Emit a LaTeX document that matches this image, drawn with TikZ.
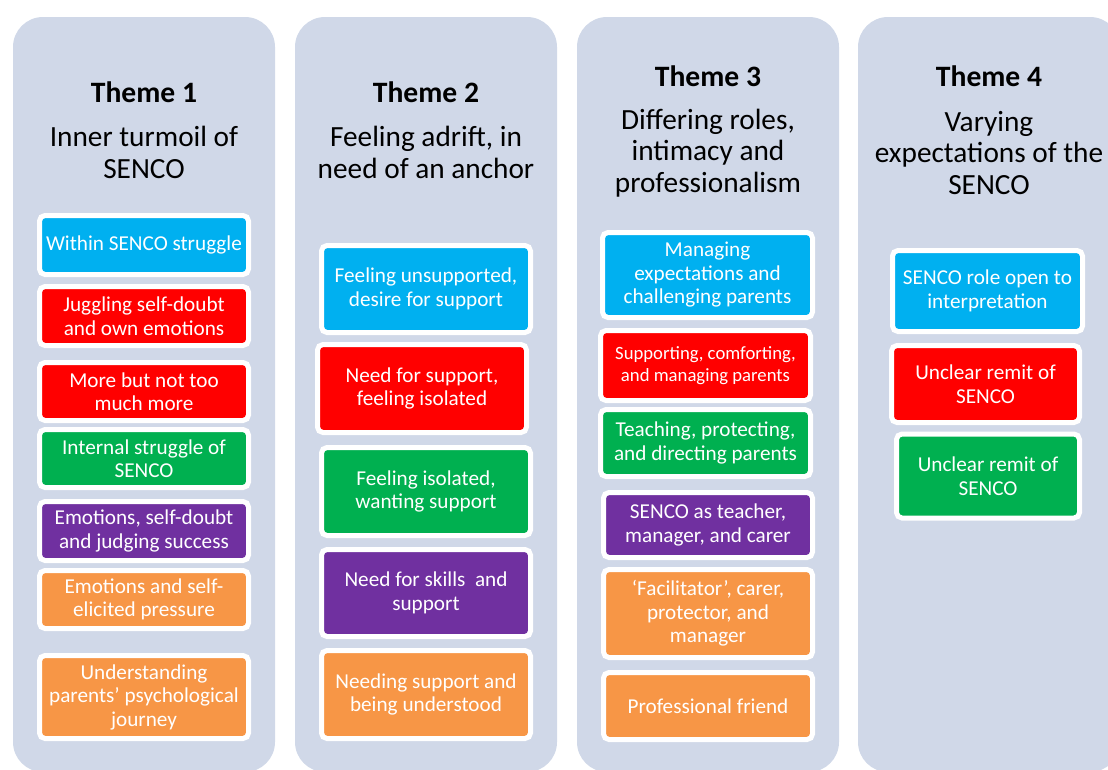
\documentclass[tikz,border=0pt]{standalone}
\usepackage{fontspec}
\setmainfont{Carlito}
\definecolor{panelgray}{HTML}{D0D8E8}
\definecolor{tblue}{HTML}{00B0F0}
\definecolor{tred}{HTML}{FF0000}
\definecolor{tgreen}{HTML}{00B050}
\definecolor{tpurple}{HTML}{7030A0}
\definecolor{torange}{HTML}{F79646}

\begin{document}
\begin{tikzpicture}[x=1pt, y=-1pt,
    panel/.style={fill=panelgray, rounded corners=30pt},
    themehead/.style={font=\fontsize{29.6}{32}\selectfont\bfseries},
    themename/.style={align=center, font=\fontsize{29.3}{31.7}\selectfont},
    tbox/.style={draw=white, line width=5pt, rounded corners=5.5pt, text=white,
        align=center, inner sep=0pt, font=\fontsize{21.2}{23.5}\selectfont}]
\useasboundingbox (0,0) rectangle (1108,769);
\clip (0,0) rectangle (1108,769);

\foreach \x in {13,295,577,858}
{
    \fill[panel] (\x,17) rectangle ++(262,755);
}

% theme 1
\node[themehead] (head1) at (144,92) {Theme 1};
\node[themename] (name1) at (144,152.5) {Inner turmoil of\\SENCO};
\node[tbox, fill=tblue, minimum width=209pt, minimum height=59pt] (within) at (144,245) {Within SENCO struggle};
\node[tbox, fill=tred, minimum width=209pt, minimum height=59pt] (juggling) at (144,316) {Juggling self-doubt\\and own emotions};
\node[tbox, fill=tred, minimum width=209pt, minimum height=58pt] (morebut) at (144,391.5) {More but not too\\much more};
\node[tbox, fill=tgreen, minimum width=209pt, minimum height=58pt] (internal) at (144,458.5) {Internal struggle of\\SENCO};
\node[tbox, fill=tpurple, minimum width=209pt, minimum height=59pt] (emotions) at (144,531) {Emotions, self-doubt\\and judging success};
\node[tbox, fill=torange, minimum width=209pt, minimum height=58pt] (pressure) at (144,599.5) {Emotions and self-\\elicited pressure};
\node[tbox, fill=torange, minimum width=209pt, minimum height=83pt] (journey) at (144,697) {Understanding\\parents’ psychological\\journey};

% theme 2
\node[themehead] (head2) at (426,92) {Theme 2};
\node[themename] (name2) at (426,152.5) {Feeling adrift, in\\need of an anchor};
\node[tbox, fill=tblue, minimum width=209pt, minimum height=87pt] (unsupported) at (426,289) {Feeling unsupported,\\desire for support};
\node[tbox, fill=tred, minimum width=209pt, minimum height=88pt] (isolated) at (422,388.5) {Need for support,\\feeling isolated};
\node[tbox, fill=tgreen, minimum width=209pt, minimum height=88pt] (wanting) at (426,491.5) {Feeling isolated,\\wanting support};
\node[tbox, fill=tpurple, minimum width=209pt, minimum height=87pt] (skills) at (426,593) {Need for skills\ \ and\\support};
\node[tbox, fill=torange, minimum width=209pt, minimum height=88pt] (understood) at (426,694.5) {Needing support and\\being understood};

% theme 3
\node[themehead] (head3) at (708,76) {Theme 3};
\node[themename] (name3) at (708,153) {Differing roles,\\intimacy and\\professionalism};
\node[tbox, fill=tblue, minimum width=210pt, minimum height=85pt] (expectations) at (707.5,275) {Managing\\expectations and\\challenging parents};
\node[tbox, fill=tred, minimum width=210pt, minimum height=70pt, font=\fontsize{18.7}{21.5}\selectfont] (comforting) at (705.5,365.5) {Supporting, comforting,\\and managing parents};
\node[tbox, fill=tgreen, minimum width=210pt, minimum height=67pt] (directing) at (705.5,443) {Teaching, protecting,\\and directing parents};
\node[tbox, fill=tpurple, minimum width=209pt, minimum height=65pt] (teacher) at (708,525) {SENCO as teacher,\\manager, and carer};
\node[tbox, fill=torange, minimum width=209pt, minimum height=88pt] (facilitator) at (708,613.5) {‘Facilitator’, carer,\\protector, and\\manager};
\node[tbox, fill=torange, minimum width=209pt, minimum height=67pt] (friend) at (708,706) {Professional friend};

% theme 4
\node[themehead] (head4) at (989,76) {Theme 4};
\node[themename] (name4) at (989,153) {Varying\\expectations of the\\SENCO};
\node[tbox, fill=tblue, minimum width=190pt, minimum height=81pt] (openrole) at (987.5,291) {SENCO role open to\\interpretation};
\node[tbox, fill=tred, minimum width=188pt, minimum height=77pt] (remitred) at (985.5,384) {Unclear remit of\\SENCO};
\node[tbox, fill=tgreen, minimum width=183pt, minimum height=84pt] (remitgreen) at (988,476) {Unclear remit of\\SENCO};

\end{tikzpicture}
\end{document}
